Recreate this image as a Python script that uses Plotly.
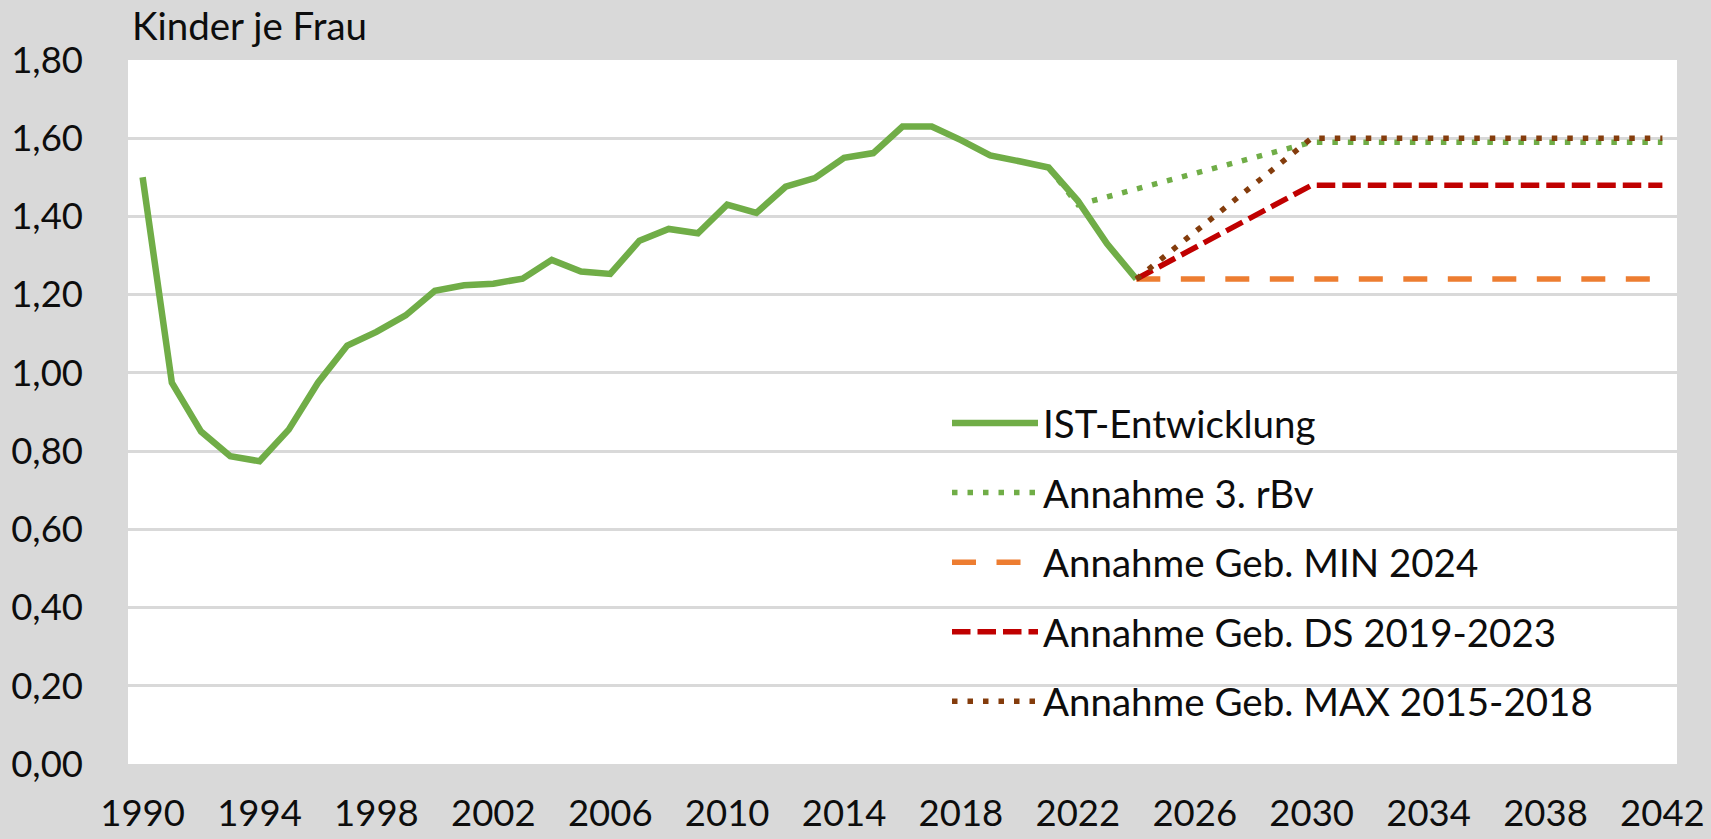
import plotly.graph_objects as go

# ---------------- data ----------------
ist_years = list(range(1990, 2025))
ist_values = [1.50, 0.975, 0.85, 0.787, 0.774, 0.855, 0.975, 1.07, 1.105, 1.147,
              1.21, 1.224, 1.228, 1.241, 1.289, 1.259, 1.253, 1.338, 1.368, 1.357,
              1.43, 1.409, 1.476, 1.498, 1.55, 1.562, 1.63, 1.63, 1.595, 1.556,
              1.541, 1.525, 1.44, 1.33, 1.24]

rbv_years = list(range(2021, 2043))
rbv_values = [1.525, 1.43, 1.45, 1.47, 1.49, 1.51, 1.53, 1.55, 1.57, 1.59,
              1.59, 1.59, 1.59, 1.59, 1.59, 1.59, 1.59, 1.59, 1.59, 1.59, 1.59, 1.59]

min_years = list(range(2024, 2043))
min_values = [1.24] * 19

ds_years = list(range(2024, 2043))
ds_values = [1.24, 1.28, 1.32, 1.36, 1.40, 1.44, 1.48,
             1.48, 1.48, 1.48, 1.48, 1.48, 1.48, 1.48, 1.48, 1.48, 1.48, 1.48, 1.48]

max_years = list(range(2024, 2043))
max_values = [1.24, 1.30, 1.36, 1.42, 1.48, 1.54, 1.60,
              1.60, 1.60, 1.60, 1.60, 1.60, 1.60, 1.60, 1.60, 1.60, 1.60, 1.60, 1.60]

series_names = ["IST-Entwicklung", "Annahme 3. rBv", "Annahme Geb. MIN 2024",
                "Annahme Geb. DS 2019-2023", "Annahme Geb. MAX 2015-2018"]

x_tick_vals = list(range(1990, 2043, 4))
x_tick_text = [str(v) for v in x_tick_vals]
y_tick_vals = [0.0, 0.2, 0.4, 0.6, 0.8, 1.0, 1.2, 1.4, 1.6, 1.8]

# ---------------- figure ----------------
FONT = "Lato"
FS = 38.5      # legend / title
FS_TICK = 36.5
TXT = "#0d0d0d"
BG = "#D9D9D9"
W, H = 1711, 839
PL, PR, PT, PB = 128, 1677, 60, 764   # plot area in pixels
ML, MR, MT, MB = PL, W - PR, PT, H - PB
PW, PH = W - ML - MR, H - MT - MB

def px_x(p):   # pixel -> paper coordinate
    return (p - PL) / PW

def px_y(p):
    return (PB - p) / PH

fig = go.Figure()

styles = [
    (ist_years, ist_values, "#70AD47", 6.5, "solid"),
    (rbv_years, rbv_values, "#70AD47", 5.5, "5.5px,10px"),
    (min_years, min_values, "#ED7D31", 5.5, "24px,20.5px"),
    (ds_years, ds_values, "#C00000", 5.5, "18.5px,7px"),
    (max_years, max_values, "#843C0C", 5.5, "5.5px,10px"),
]
for i, (xs, ys, col, w, dash) in enumerate(styles):
    fig.add_trace(go.Scatter(
        x=xs, y=ys, mode="lines", name=series_names[i],
        line=dict(color=col, width=w, dash=dash),
        legendgroup="g%d" % i, hoverinfo="skip",
    ))

fig.update_layout(
    width=W, height=H,
    paper_bgcolor=BG, plot_bgcolor="#FFFFFF",
    margin=dict(l=ML, r=MR, t=MT, b=MB, autoexpand=False),
    font=dict(family=FONT, size=FS, color=TXT),
    separators=",.",
    showlegend=True,
    legend=dict(
        x=px_x(947), y=px_y(391.5), xanchor="left", yanchor="top",
        bgcolor="rgba(0,0,0,0)", borderwidth=0,
        font=dict(family=FONT, size=FS, color=TXT),
        itemwidth=86, tracegroupgap=16.5, traceorder="grouped",
    ),
    xaxis=dict(
        range=[1989.5, 2042.5], tickmode="array",
        tickvals=x_tick_vals, ticktext=x_tick_text,
        showgrid=False, zeroline=False, showline=False,
        ticks="", ticklabelstandoff=24, automargin=False,
        ticklabeloverflow="allow",
        tickfont=dict(family=FONT, size=FS_TICK, color=TXT),
    ),
    yaxis=dict(
        range=[0, 1.8], tickmode="array", tickvals=y_tick_vals,
        tickformat=".2f", showgrid=True, gridcolor=BG, gridwidth=2.5,
        zeroline=False, showline=False, ticks="", ticklabelstandoff=44,
        automargin=False, ticklabeloverflow="allow",
        tickfont=dict(family=FONT, size=FS_TICK, color=TXT),
    ),
    shapes=[dict(
        type="rect", xref="paper", yref="paper",
        x0=px_x(935), x1=px_x(1653), y0=px_y(388), y1=0,
        fillcolor="#FFFFFF", line=dict(width=0), layer="between",
    )],
    annotations=[dict(
        text="Kinder je Frau", xref="paper", yref="paper",
        x=px_x(130), y=px_y(25), xanchor="left", yanchor="middle",
        showarrow=False, font=dict(family=FONT, size=FS, color=TXT),
    )],
)

fig.write_html("out.html", config={"displayModeBar": False},
               post_script="document.body.style.margin='0';"
                           "document.body.style.backgroundColor='#D9D9D9';")
